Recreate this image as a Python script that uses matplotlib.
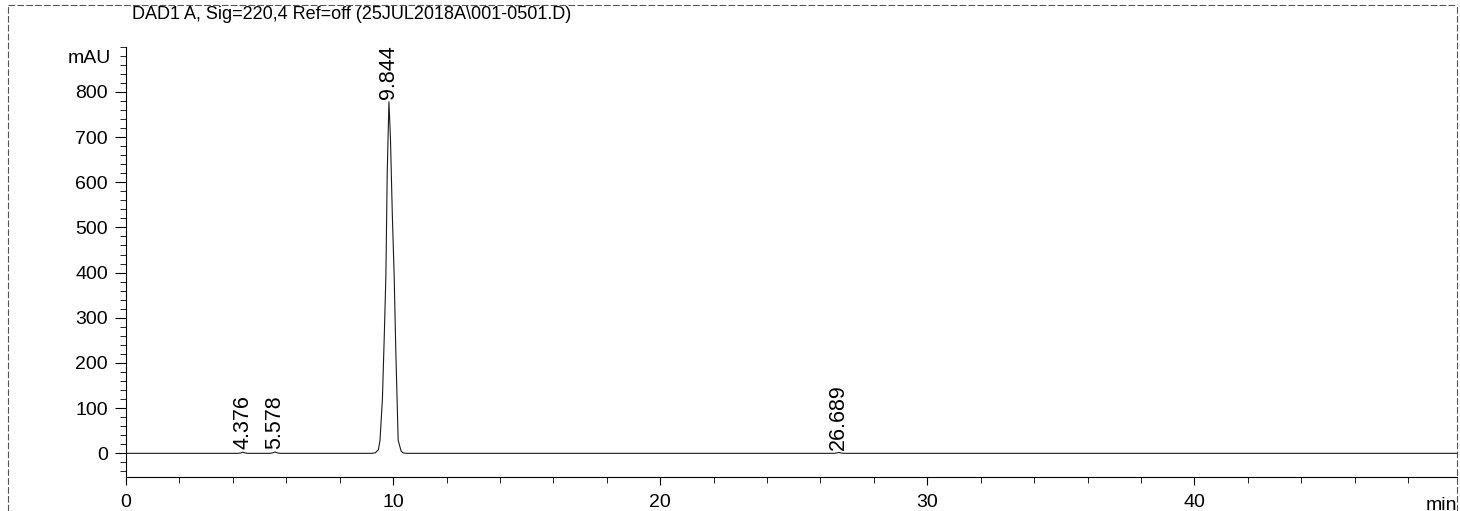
import matplotlib
matplotlib.use("Agg")
import matplotlib.pyplot as plt
from matplotlib.lines import Line2D
from matplotlib.ticker import MultipleLocator

plt.rcParams['font.family'] = ['Liberation Sans', 'DejaVu Sans']

# Chromatogram trace (time in min, signal in mAU)
time_min = [0.0, 4.20, 4.30, 4.376, 4.45, 4.55, 5.40, 5.50, 5.578, 5.66, 5.75,
            9.20, 9.33, 9.45, 9.51, 9.60, 9.67, 9.73, 9.78, 9.844, 9.90, 9.97,
            10.04, 10.10, 10.19, 10.30, 10.37, 10.50, 26.50, 26.62, 26.689,
            26.76, 26.88, 49.83]
signal_mau = [0.0, 0.0, 1.0, 2.5, 1.0, 0.0, 0.0, 1.2, 3.0, 1.2, 0.0,
              0.0, 1.0, 8.0, 29.0, 120.0, 260.0, 393.0, 620.0, 778.0, 700.0, 530.0,
              393.0, 230.0, 29.0, 5.0, 1.0, 0.0, 0.0, 0.8, 2.0,
              0.8, 0.0, 0.0]

# Integrated peaks: retention time labels
peak_times = [4.376, 5.578, 9.844, 26.689]
peak_heights = [2.5, 3.0, 778.0, 2.0]

title = r"DAD1 A, Sig=220,4 Ref=off (25JUL2018A\001-0501.D)"

fig = plt.figure(figsize=(14.6, 5.11), dpi=100)
ax = fig.add_axes([0.0863, 0.066, 0.9116, 0.8426])

ax.plot(time_min, signal_mau, color='#1a1a1a', lw=0.8)

for t, h in zip(peak_times, peak_heights):
    ax.annotate(f"{t:.3f}", xy=(t, h), xytext=(0, 2), textcoords='offset points',
                rotation=90, ha='center', va='bottom', fontsize=15.5)

ax.set_xlim(0, 49.83)
ax.set_ylim(-53, 900)

ax.xaxis.set_major_locator(MultipleLocator(10))
ax.xaxis.set_minor_locator(MultipleLocator(2))
ax.set_yticks([0, 100, 200, 300, 400, 500, 600, 700, 800])
ax.yaxis.set_minor_locator(MultipleLocator(20))
ax.tick_params(axis='both', which='major', labelsize=14, direction='out', width=0.8)
ax.tick_params(axis='y', which='major', length=8, pad=5)
ax.tick_params(axis='x', which='major', length=6, pad=6)
ax.tick_params(axis='both', which='minor', length=4, width=0.6)

for side in ('top', 'right'):
    ax.spines[side].set_visible(False)
ax.spines['left'].set_linewidth(0.8)
ax.spines['bottom'].set_linewidth(0.8)

# axis units written where the instrument printout puts them
ax.text(-0.011, 875, "mAU", transform=ax.get_yaxis_transform(),
        ha='right', va='center', fontsize=14)
ax.text(1.0, -0.045, "min", transform=ax.transAxes, ha='right', va='top', fontsize=14)

fig.text(0.0904, 0.971, title, ha='left', va='center', fontsize=13)

# dotted page frame of the printout
frame = dict(color='#555555', lw=0.8, ls=(0, (6, 2)))
fig.add_artist(Line2D([0.0055, 0.998], [0.990, 0.990], transform=fig.transFigure, **frame))
fig.add_artist(Line2D([0.0055, 0.0055], [0.0, 0.990], transform=fig.transFigure, **frame))
fig.add_artist(Line2D([0.998, 0.998], [0.0, 0.990], transform=fig.transFigure, **frame))

fig.savefig("out.png", dpi=100)
